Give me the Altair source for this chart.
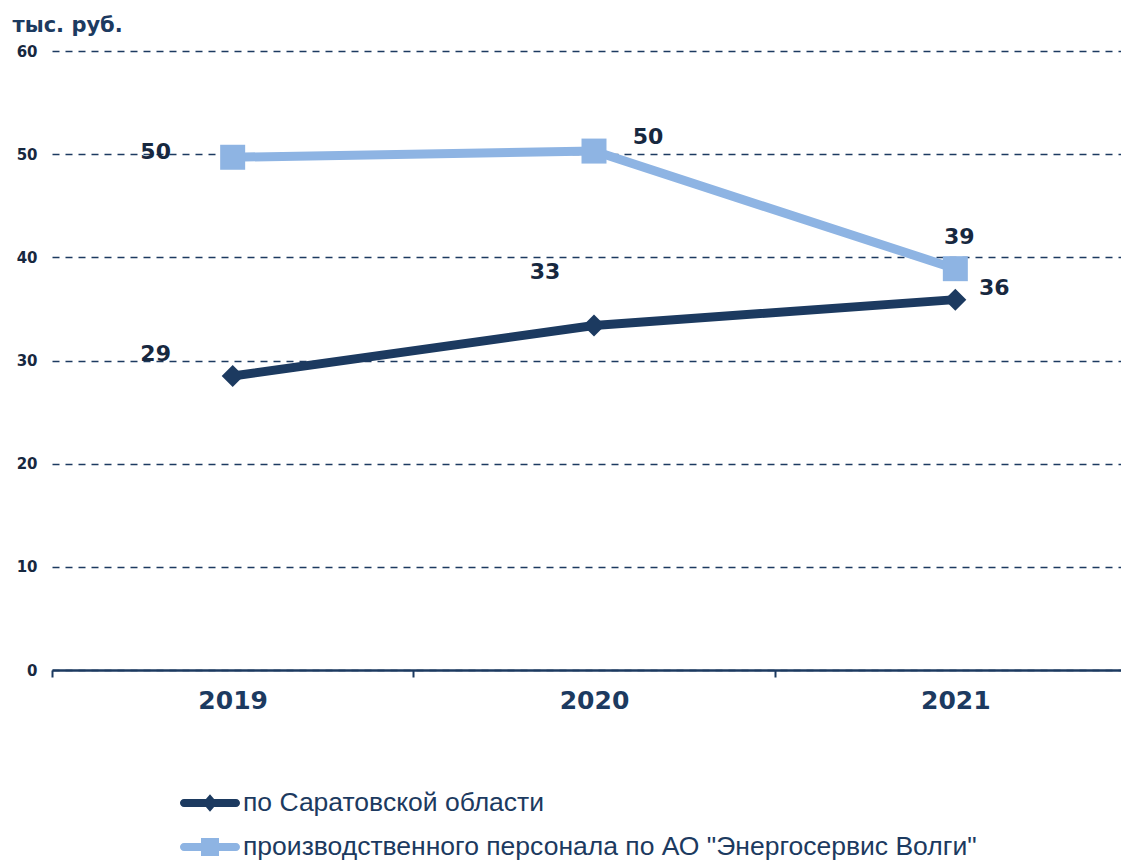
import altair as alt
import pandas as pd

years = ["2019", "2020", "2021"]
series_names = ["по Саратовской области",
                'производственного персонала по АО "Энергосервис Волги"']
region_values = [28.5, 33.4, 35.9]
company_values = [49.7, 50.3, 38.9]
region_labels = ["29", "33", "36"]
company_labels = ["50", "50", "39"]
y_ticks = [0, 10, 20, 30, 40, 50, 60]

DARK = "#1c3a60"
LIGHT = "#8eb4e3"
TEXT = "#17283f"
BOLD_FONT = "DejaVu Sans"

rows = []
for i, yr in enumerate(years):
    rows.append({"year": yr, "series": series_names[0], "value": region_values[i],
                 "label": region_labels[i], "k": f"r{i}"})
    rows.append({"year": yr, "series": series_names[1], "value": company_values[i],
                 "label": company_labels[i], "k": f"c{i}"})
df = pd.DataFrame(rows)

# label offsets (px) per point, style only
offsets = {"r0": (-77, -22), "c0": (-77, -5), "r1": (-49, -53),
           "c1": (54, -14), "r2": (39, -12), "c2": (4, -32)}

x_enc = alt.X("year:N", bandPosition=0.5,
              scale=alt.Scale(type="band", domain=years, paddingInner=0, paddingOuter=0,
                              range=[0, 1084]),
              axis=alt.Axis(title=None, labelAngle=0, domainColor=DARK, domainWidth=2.5,
                            tickColor=DARK, tickWidth=2, tickSize=7, tickBand="extent",
                            labelPadding=11, labelFont=BOLD_FONT, labelFontSize=25,
                            labelFontWeight="bold", labelColor=DARK, grid=False))
y_enc = alt.Y("value:Q", scale=alt.Scale(domain=[0, 60], nice=False),
              axis=alt.Axis(values=y_ticks, title="тыс. руб.", titleAngle=0,
                            titleAlign="left", titleBaseline="middle", titleX=-40, titleY=-26,
                            titleFont=BOLD_FONT, titleFontSize=21, titleFontWeight="bold",
                            titleColor=DARK, grid=True, gridDash=[7, 6], gridColor=DARK,
                            gridWidth=1.5, domain=False, ticks=False, labelFont=BOLD_FONT,
                            labelFontSize=15, labelFontWeight="bold", labelColor=TEXT,
                            labelPadding=15))

base = alt.Chart(df).encode(x=x_enc, y=y_enc)

color_scale = alt.Scale(domain=series_names, range=[DARK, LIGHT])

lines = base.mark_line(strokeWidth=9).encode(
    color=alt.Color("series:N", scale=color_scale, legend=None))

points = base.mark_point(filled=True, opacity=1).encode(
    color=alt.Color("series:N", scale=color_scale, legend=None),
    shape=alt.Shape("series:N", scale=alt.Scale(domain=series_names, range=["diamond", "square"]),
                    legend=None),
    size=alt.Size("series:N", scale=alt.Scale(domain=series_names, range=[484, 625]), legend=None))

r = 0.133
line_path = (f"M-0.867,-{r}H0.867A{r},{r} 0 0 1 0.867,{r}H-0.867A{r},{r} 0 0 1 -0.867,-{r}Z")
diamond_path = line_path + "M0,-0.29L0.25,0L0,0.29L-0.25,0Z"
square_path = line_path + "M-0.3,-0.3H0.3V0.3H-0.3Z"

legend_props = dict(title=None, orient="none", legendX=128, legendY=722,
                    direction="vertical", symbolSize=3600, symbolOpacity=1,
                    symbolStrokeWidth=0, labelFont="Liberation Sans",
                    labelFontSize=26.5, labelColor=DARK, labelOffset=3,
                    labelLimit=0, rowPadding=0)

legend_layer = base.mark_point(filled=True, opacity=0, size=3600).encode(
    fill=alt.Fill("series:N", scale=alt.Scale(domain=series_names, range=[DARK, LIGHT]),
                  legend=alt.Legend(**legend_props)),
    shape=alt.Shape("series:N", scale=alt.Scale(domain=series_names,
                                                range=[diamond_path, square_path]),
                    legend=alt.Legend(**legend_props)))

texts = []
for k, (dx, dy) in offsets.items():
    texts.append(base.transform_filter(alt.datum.k == k).mark_text(
        dx=dx, dy=dy, font=BOLD_FONT, fontSize=22, fontWeight="bold", color=TEXT,
        align="center", baseline="middle").encode(text="label:N"))

chart = alt.layer(lines, points, legend_layer, *texts).resolve_scale(
    shape="independent", size="independent", fill="independent").properties(
    width=1069, height=619, background="white",
    autosize=alt.AutoSizeParams(type="none"),
    padding={"left": 44, "top": 43, "right": 0, "bottom": 190},
).configure_view(stroke=None)

chart.save("out.html", embed_options={"renderer": "svg", "actions": False})
